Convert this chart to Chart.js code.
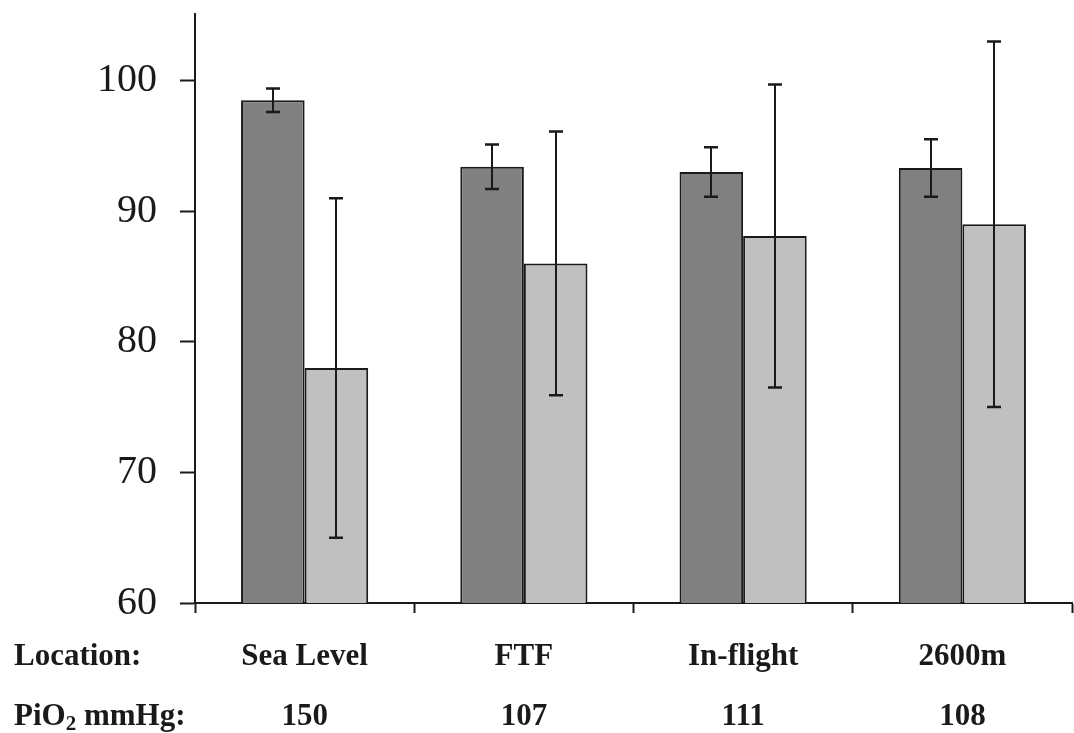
<!DOCTYPE html>
<html>
<head>
<meta charset="utf-8">
<script src="https://cdn.jsdelivr.net/npm/chart.js@4/dist/chart.umd.min.js"></script>
<style>
  html, body { margin: 0; padding: 0; background: #fff; }
  #wrap { width: 1074px; height: 733px; }
</style>
</head>
<body>
<div id="wrap"><canvas id="chart" width="1074" height="733"></canvas></div>
<script>
// categories and the second header row
var locations = ["Sea Level", "FTF", "In-flight", "2600m"];
var pio2 = ["150", "107", "111", "108"];

// dark bars (first group) and light bars (second group), with +/- error
var darkMean = [98.5, 93.4, 93.0, 93.3];
var darkErr = [0.9, 1.7, 1.9, 2.2];
var lightMean = [78.0, 86.0, 88.1, 89.0];
var lightErr = [13.0, 10.1, 11.6, 14.0];

var yTicks = [60, 70, 80, 90, 100];

var ink = "#1a1a1a";
var serif = "'Liberation Serif', 'Times New Roman', serif";

// error bars on top of every bar
var errorBars = {
  id: "errorBars",
  afterDatasetsDraw: function(chart) {
    var ctx = chart.ctx;
    var y = chart.scales.y;
    ctx.save();
    ctx.strokeStyle = ink;
    ctx.lineWidth = 2;
    chart.data.datasets.forEach(function(ds, i) {
      var meta = chart.getDatasetMeta(i);
      meta.data.forEach(function(bar, j) {
        var v = ds.data[j], e = ds.errors[j];
        var top = y.getPixelForValue(v + e);
        var bot = y.getPixelForValue(v - e);
        var x = Math.round(bar.x);
        ctx.beginPath();
        ctx.moveTo(x, top); ctx.lineTo(x, bot);
        ctx.stroke();
        ctx.lineWidth = 2.5;
        ctx.beginPath();
        ctx.moveTo(x - 7, top); ctx.lineTo(x + 7, top);
        ctx.moveTo(x - 7, bot); ctx.lineTo(x + 7, bot);
        ctx.stroke();
        ctx.lineWidth = 2;
      });
    });
    ctx.restore();
  }
};

// row headers at the left of the category labels
var rowHeaders = {
  id: "rowHeaders",
  afterDraw: function(chart) {
    var ctx = chart.ctx;
    var x = chart.scales.x;
    var y1 = x.top + 24 + 30;
    var y2 = y1 + 60;
    ctx.save();
    ctx.fillStyle = ink;
    ctx.textBaseline = "middle";
    ctx.textAlign = "left";
    ctx.font = "bold 31px " + serif;
    ctx.fillText("Location:", 14, y1);
    var px = 14;
    ctx.fillText("PiO", px, y2);
    px += ctx.measureText("PiO").width;
    ctx.font = "bold 21px " + serif;
    ctx.fillText("2", px, y2 + 8);
    px += ctx.measureText("2").width;
    ctx.font = "bold 31px " + serif;
    ctx.fillText(" mmHg:", px, y2);
    ctx.restore();
  }
};

var ctx = document.getElementById("chart").getContext("2d");
var chart = new Chart(ctx, {
  type: "bar",
  data: {
    labels: locations.map(function(l, i) { return [l, pio2[i]]; }),
    datasets: [
      {
        data: darkMean,
        errors: darkErr,
        backgroundColor: "#808080",
        borderColor: ink,
        borderWidth: 2,
        categoryPercentage: 0.58,
        barPercentage: 1
      },
      {
        data: lightMean,
        errors: lightErr,
        backgroundColor: "#c0c0c0",
        borderColor: ink,
        borderWidth: 2,
        categoryPercentage: 0.58,
        barPercentage: 1
      }
    ]
  },
  options: {
    responsive: false,
    animation: false,
    layout: { padding: { top: 14, right: 2, left: 0, bottom: 0 } },
    plugins: {
      legend: { display: false },
      tooltip: { enabled: false }
    },
    scales: {
      x: {
        grid: {
          offset: true,
          drawOnChartArea: false,
          drawTicks: true,
          tickLength: 10,
          tickColor: ink,
          tickWidth: 2
        },
        border: { color: ink, width: 2 },
        ticks: {
          color: ink,
          padding: 14,
          maxRotation: 0,
          font: { family: serif, size: 31, weight: "bold", lineHeight: "60px" }
        },
        afterFit: function(scale) {
          scale.height = 130;
          scale.paddingLeft = 0;
          scale.paddingRight = 0;
        }
      },
      y: {
        min: 60,
        max: 105.1,
        afterBuildTicks: function(scale) {
          scale.ticks = yTicks.map(function(v) { return { value: v }; });
        },
        grid: {
          drawOnChartArea: false,
          drawTicks: true,
          tickLength: 15,
          tickColor: ink,
          tickWidth: 2
        },
        border: { color: ink, width: 2 },
        ticks: {
          color: ink,
          padding: 23,
          includeBounds: false,
          font: { family: serif, size: 40 }
        },
        afterFit: function(scale) {
          scale.width = 195;
          scale.paddingTop = 0;
          scale.paddingBottom = 0;
        }
      }
    }
  },
  plugins: [errorBars, rowHeaders]
});
</script>
</body>
</html>
